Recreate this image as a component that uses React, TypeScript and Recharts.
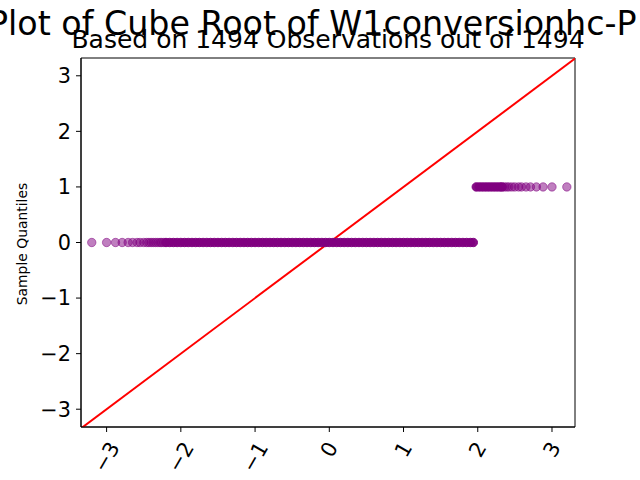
import React from 'react';
import {
  ScatterChart, Scatter, XAxis, YAxis, ReferenceLine, ReferenceArea,
} from 'recharts';

// theoretical quantiles
const lowTailX = [-3.2, -3.0, -2.88, -2.79, -2.71, -2.65, -2.59, -2.55, -2.5, -2.46, -2.43, -2.4, -2.37, -2.34, -2.31, -2.28, -2.26, -2.23];
const lowCoreX = [
  -2.2, -2.15, -2.1, -2.05, -2.0, -1.95, -1.9, -1.85, -1.8, -1.75, -1.7, -1.65, -1.6, -1.55, -1.5, -1.45,
  -1.4, -1.35, -1.3, -1.25, -1.2, -1.15, -1.1, -1.05, -1.0, -0.95, -0.9, -0.85, -0.8, -0.75, -0.7, -0.65,
  -0.6, -0.55, -0.5, -0.45, -0.4, -0.35, -0.3, -0.25, -0.2, -0.15, -0.1, -0.05, 0, 0.05, 0.1, 0.15,
  0.2, 0.25, 0.3, 0.35, 0.4, 0.45, 0.5, 0.55, 0.6, 0.65, 0.7, 0.75, 0.8, 0.85, 0.9, 0.95,
  1.0, 1.05, 1.1, 1.15, 1.2, 1.25, 1.3, 1.35, 1.4, 1.45, 1.5, 1.55, 1.6, 1.65, 1.7, 1.75,
  1.8, 1.85, 1.9, 1.94,
];
const highCoreX = [1.98, 2.02, 2.06, 2.1, 2.14, 2.18, 2.22, 2.26, 2.3, 2.33];
const highTailX = [2.36, 2.39, 2.42, 2.46, 2.5, 2.55, 2.59, 2.65, 2.71, 2.79, 2.88, 3.0, 3.2];

// sample quantiles (cube root values)
const lowValue = 0;
const highValue = 1;

const xTicks = [-3, -2, -1, 0, 1, 2, 3];
const yTicks = [-3, -2, -1, 0, 1, 2, 3];
const xDomain = [-3.345, 3.31];
const yDomain = [-3.32, 3.32];

const titleText = 'Plot of Cube Root of W1conversionhc-P';
const subtitleText = 'Based on 1494 Observations out of 1494';

const FONT = '"DejaVu Sans", sans-serif';
const PURPLE = '#800080';

const toPoints = (xs: number[], y: number) => xs.map((x) => ({ x, y }));

const fmt = (v: number) => (v < 0 ? '\u2212' + Math.abs(v) : String(v));

const makeDot = (opacity: number) => (props: any) => (
  <circle
    cx={props.cx}
    cy={props.cy}
    r={4.2}
    fill={PURPLE}
    fillOpacity={opacity}
    stroke={PURPLE}
    strokeOpacity={opacity}
    strokeWidth={1}
  />
);

const RotatedTick = ({ x, y, payload }: any) => {
  const label = fmt(payload.value);
  const fs = 20.8;
  const w = (label.length > 1 ? 1.474 : 0.636) * fs;
  const h = 0.73 * fs;
  const cy = y + 8 + (w * 0.866 + h * 0.5) / 2;
  return (
    <text
      x={x}
      y={cy}
      textAnchor="middle"
      dominantBaseline="central"
      fontSize={fs}
      fontFamily={FONT}
      fill="#000"
      transform={`rotate(-60 ${x} ${cy})`}
    >
      {label}
    </text>
  );
};

export default function App() {
  return (
    <div style={{ position: 'absolute', left: 0, top: 0, width: 640, height: 480, background: '#fff', overflow: 'hidden' }}>
      <ScatterChart
        width={640}
        height={480}
        margin={{ top: 58, right: 65, bottom: 3, left: 21 }}
      >
        <XAxis
          type="number"
          dataKey="x"
          domain={xDomain}
          ticks={xTicks}
          allowDataOverflow
          height={50}
          tickSize={5}
          tickMargin={0}
          axisLine={{ stroke: '#000' }}
          tickLine={{ stroke: '#000' }}
          tick={<RotatedTick />}
          interval={0}
        />
        <YAxis
          type="number"
          dataKey="y"
          domain={yDomain}
          ticks={yTicks}
          allowDataOverflow
          width={60}
          tickSize={5}
          tickMargin={5}
          axisLine={{ stroke: '#000' }}
          tickLine={{ stroke: '#000' }}
          tick={{ fill: '#000', fontSize: 20.8, fontFamily: FONT }}
          tickFormatter={fmt}
          interval={0}
        />
        <Scatter data={toPoints(lowTailX, lowValue)} shape={makeDot(0.5)} isAnimationActive={false} />
        <Scatter data={toPoints(lowCoreX, lowValue)} shape={makeDot(0.95)} isAnimationActive={false} />
        <Scatter data={toPoints(highCoreX, highValue)} shape={makeDot(0.95)} isAnimationActive={false} />
        <Scatter data={toPoints(highTailX, highValue)} shape={makeDot(0.5)} isAnimationActive={false} />
        <ReferenceLine
          segment={[{ x: -3.4, y: -3.4 }, { x: 3.4, y: 3.4 }]}
          stroke="#ff0000"
          strokeWidth={2}
          ifOverflow="hidden"
        />
        <ReferenceArea
          x1={xDomain[0]}
          x2={xDomain[1]}
          y1={yDomain[0]}
          y2={yDomain[1]}
          fill="none"
          stroke="#000"
          strokeWidth={1}
          ifOverflow="visible"
        />
      </ScatterChart>
      <svg
        width={640}
        height={480}
        style={{ position: 'absolute', left: 0, top: 0, pointerEvents: 'none' }}
      >
        <text x={-12} y={35} fontSize={33.3} fontFamily={FONT} fill="#000">
          {titleText}
        </text>
        <text x={328} y={48} fontSize={25} fontFamily={FONT} fill="#000" textAnchor="middle">
          {subtitleText}
        </text>
        <text
          x={22}
          y={244}
          fontSize={13.9}
          fontFamily={FONT}
          fill="#000"
          textAnchor="middle"
          dominantBaseline="central"
          transform="rotate(-90 22 244)"
        >
          Sample Quantiles
        </text>
      </svg>
    </div>
  );
}
